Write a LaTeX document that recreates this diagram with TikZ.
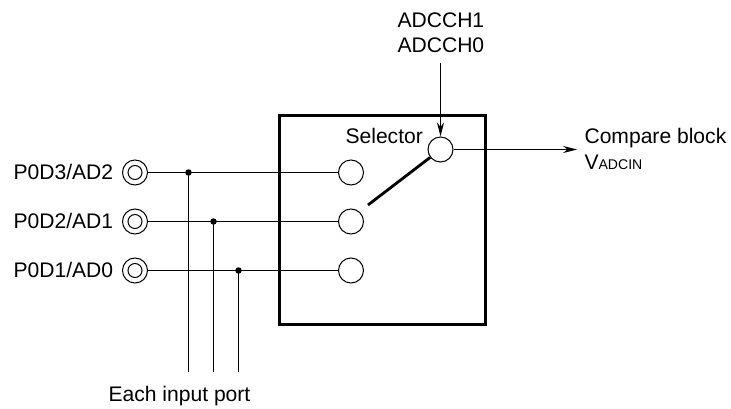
\documentclass[tikz,border=0pt]{standalone}
\usepackage{fontspec}
\setmainfont{Liberation Sans}
\usetikzlibrary{arrows.meta, positioning}
\tikzset{
  every picture/.style={line width=0.6pt},
  lbl/.style={font=\fontsize{12}{14}\selectfont, inner sep=0pt, anchor=base west},
  ring/.style={circle, draw, fill=white, minimum size=0.5cm, inner sep=0pt},
  inring/.style={circle, draw, fill=white, minimum size=0.28cm, inner sep=0pt},
  dotnode/.style={circle, fill=black, minimum size=0.13cm, inner sep=0pt},
  arrow/.style={-{Stealth[length=2.8mm, width=1.4mm]}},
}
\begin{document}
\begin{tikzpicture}[x=0.2mm, y=-0.2mm]
  \useasboundingbox (0,0) rectangle (731,409);
  % selector box
  \node[draw, line width=1.7pt, minimum width=4.13cm, minimum height=4.17cm, inner sep=0pt] (box) at (382.5,220) {};
  \node[lbl] (sel) at (345,143) {Selector};
  % ports
  \foreach \n/\y/\t in {d3/172.5/P0D3{/}AD2, d2/221.5/P0D2{/}AD1, d1/270.5/P0D1{/}AD0} {
    \node[lbl] (l\n) at (13,\y+6.5) {\t};
    \node[ring] (p\n) at (135,\y) {};
    \node[inring] (q\n) at (135,\y) {};
    \node[ring] (s\n) at (351,\y) {};
    \draw (p\n) -- (s\n);
  }
  % taps
  \node[lbl] (each) at (108,401.7) {Each input port};
  \foreach \n/\x/\y in {d3/188.5/172.5, d2/213.5/221.5, d1/238.5/270.5} {
    \node[dotnode] (j\n) at (\x,\y) {};
    \coordinate (e\n) at (\x,372);
    \draw (j\n.center) -- (e\n);
  }
  % switch
  \node[ring] (com) at (440.5,149.5) {};
  \coordinate (lever) at (368,205);
  \draw[line width=1.6pt] (lever) -- (com);
  % control and output
  \node[lbl] (ch1) at (397,27) {ADCCH1};
  \node[lbl] (ch0) at (397,52.5) {ADCCH0};
  \coordinate (ctl) at (440.5,63);
  \draw[arrow] (ctl) -- (com);
  \node[lbl] (cmp) at (584,143) {Compare block};
  \node[lbl] (vin) at (584,169) {V{\fontsize{8}{10}\selectfont ADCIN}};
  \coordinate (out) at (577,149.5);
  \draw[arrow] (com) -- (out);
\end{tikzpicture}
\end{document}
